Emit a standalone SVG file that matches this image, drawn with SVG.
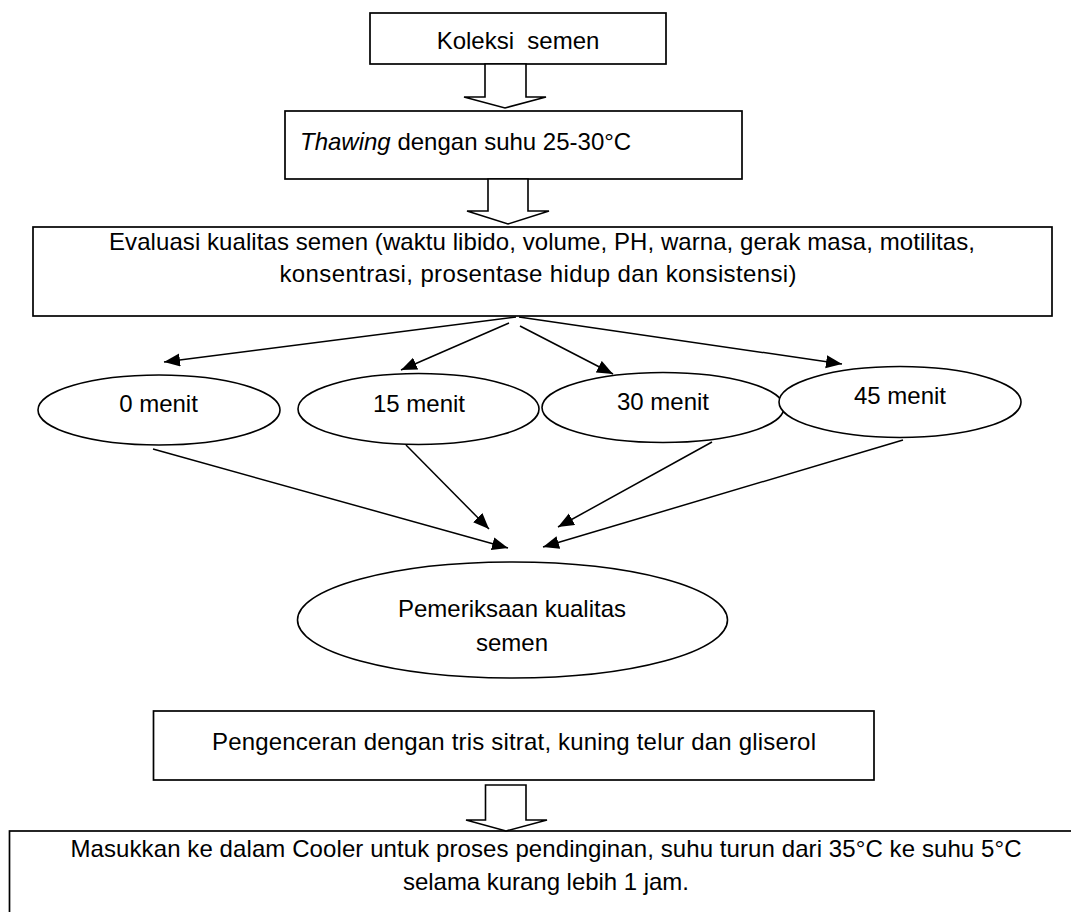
<svg xmlns="http://www.w3.org/2000/svg" width="1071" height="912" viewBox="0 0 1071 912">
  <style>
    .box { fill: #ffffff; stroke: #000000; stroke-width: 1.7; }
    .ell { fill: #ffffff; stroke: #000000; stroke-width: 1.6; }
    .block { fill: #ffffff; stroke: #000000; stroke-width: 1.6; stroke-linejoin: miter; }
    .conn { fill: none; stroke: #000000; stroke-width: 1.5; marker-end: url(#ah); }
    text { font-family: "Liberation Sans", Arial, sans-serif; font-size: 24px; fill: #000000; }
    .c { text-anchor: middle; }
  </style>
  <defs>
    <marker id="ah" markerUnits="userSpaceOnUse" markerWidth="17" markerHeight="14" refX="16" refY="6.5" orient="auto">
      <path d="M0,0 L16,6.5 L0,13 Z" fill="#000000"/>
    </marker>
  </defs>
  <rect width="1071" height="912" fill="#ffffff"/>

  <g id="koleksi">
    <rect class="box" x="370" y="13" width="296" height="51"/>
    <text class="c" x="518" y="49" style="white-space:pre" xml:space="preserve">Koleksi  semen</text>
  </g>

  <g id="thawing">
    <rect class="box" x="285" y="111" width="457" height="68"/>
    <text x="300" y="150"><tspan font-style="italic">Thawing</tspan> dengan suhu 25-30°C</text>
  </g>

  <g id="evaluasi">
    <rect class="box" x="33" y="227" width="1019" height="89"/>
    <text class="c" x="542" y="250" textLength="866">Evaluasi kualitas semen (waktu libido, volume, PH, warna, gerak masa, motilitas,</text>
    <text class="c" x="538" y="282" textLength="517">konsentrasi, prosentase hidup dan konsistensi)</text>
  </g>

  <g id="m0">
    <ellipse class="ell" cx="159" cy="410" rx="121" ry="35"/>
    <text class="c" x="158.5" y="412">0 menit</text>
  </g>
  <g id="m15">
    <ellipse class="ell" cx="418.5" cy="409" rx="120.5" ry="35.5"/>
    <text class="c" x="419" y="412">15 menit</text>
  </g>
  <g id="m30">
    <ellipse class="ell" cx="663" cy="407.5" rx="121" ry="35"/>
    <text class="c" x="663" y="410">30 menit</text>
  </g>
  <g id="m45">
    <ellipse class="ell" cx="900" cy="402" rx="121" ry="35.5"/>
    <text class="c" x="900" y="403.5">45 menit</text>
  </g>

  <g id="pemeriksaan">
    <ellipse class="ell" cx="512.5" cy="620" rx="215" ry="58"/>
    <text class="c" x="512" y="617">Pemeriksaan kualitas</text>
    <text class="c" x="512" y="651">semen</text>
  </g>

  <g id="pengenceran">
    <rect class="box" x="153.5" y="711" width="720.5" height="69"/>
    <text class="c" x="514" y="749.5" textLength="604">Pengenceran dengan tris sitrat, kuning telur dan gliserol</text>
  </g>

  <g id="cooler">
    <rect class="box" x="9.5" y="831" width="1080" height="120"/>
    <text class="c" x="546" y="857" textLength="951">Masukkan ke dalam Cooler untuk proses pendinginan, suhu turun dari 35°C ke suhu 5°C</text>
    <text class="c" x="546" y="890" textLength="286">selama kurang lebih 1 jam.</text>
  </g>

  <g id="connectors">
    <path class="block" d="M485,64 L526,64 L526,97 L546,97 L505,108 L464,97 L485,97 Z"/>
    <path class="block" d="M488,179 L528,179 L528,211 L549,211 L508,224 L467,211 L488,211 Z"/>
    <path class="block" d="M485.5,785 L526,785 L526,820 L547,820 L506,831 L466,820 L485.5,820 Z"/>

    <line class="conn" x1="516" y1="317" x2="164" y2="362"/>
    <line class="conn" x1="509" y1="323" x2="401" y2="370"/>
    <line class="conn" x1="520" y1="326" x2="613" y2="374"/>
    <line class="conn" x1="519" y1="317" x2="842" y2="364"/>

    <line class="conn" x1="153" y1="449" x2="508" y2="548"/>
    <line class="conn" x1="406" y1="445" x2="489" y2="529"/>
    <line class="conn" x1="712" y1="442" x2="558" y2="527"/>
    <line class="conn" x1="903" y1="440" x2="543" y2="547"/>
  </g>
</svg>
